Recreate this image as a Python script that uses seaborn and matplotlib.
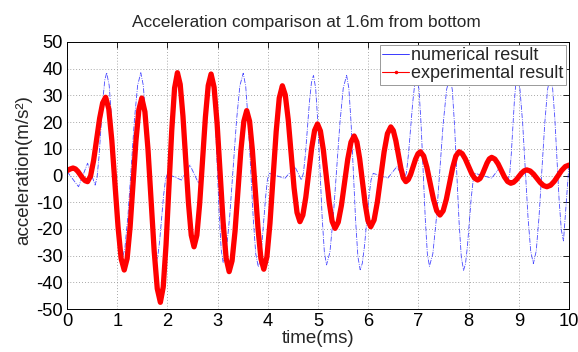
import matplotlib
matplotlib.use("Agg")
import matplotlib.pyplot as plt
import seaborn as sns
import pandas as pd
from matplotlib.lines import Line2D

# ---------------- data ----------------
title = "Acceleration comparison at 1.6m from bottom"
series_names = ["numerical result", "experimental result"]
x_ticks = [0, 1, 2, 3, 4, 5, 6, 7, 8, 9, 10]
y_ticks = [-50, -40, -30, -20, -10, 0, 10, 20, 30, 40, 50]

t_num = [0, 0.115, 0.23, 0.32, 0.41, 0.485, 0.56, 0.598, 0.637, 0.675, 0.713, 0.752, 0.79,
         0.84, 0.89, 0.94, 0.99, 1.04, 1.09, 1.153, 1.217, 1.28, 1.343, 1.407, 1.47,
         1.52, 1.57, 1.62, 1.67, 1.72, 1.77, 1.808, 1.847, 1.885, 1.923, 1.962, 2.0,
         2.14, 2.28, 2.365, 2.45, 2.535, 2.62, 2.663, 2.707, 2.75, 2.793, 2.837, 2.88,
         2.918, 2.957, 2.995, 3.033, 3.072, 3.11, 3.177, 3.243, 3.31, 3.377, 3.443, 3.51,
         3.56, 3.61, 3.66, 3.71, 3.76, 3.81, 3.847, 3.883, 3.92, 3.957, 3.993, 4.03,
         4.185, 4.34, 4.44, 4.54, 4.605, 4.67, 4.71, 4.75, 4.79, 4.83, 4.87, 4.91,
         4.953, 4.997, 5.04, 5.083, 5.127, 5.17, 5.237, 5.303, 5.37, 5.437, 5.503, 5.57,
         5.615, 5.66, 5.705, 5.75, 5.795, 5.84, 5.883, 5.927, 5.97, 6.013, 6.057, 6.1,
         6.245, 6.39, 6.48, 6.57, 6.645, 6.72, 6.762, 6.803, 6.845, 6.887, 6.928, 6.97,
         7.012, 7.053, 7.095, 7.137, 7.178, 7.22, 7.288, 7.357, 7.425, 7.493, 7.562, 7.63,
         7.675, 7.72, 7.765, 7.81, 7.855, 7.9, 7.938, 7.977, 8.015, 8.053, 8.092, 8.13,
         8.295, 8.46, 8.535, 8.61, 8.7, 8.79, 8.82, 8.85, 8.88, 8.91, 8.94, 8.97,
         9.023, 9.077, 9.13, 9.183, 9.237, 9.29, 9.347, 9.403, 9.46, 9.517, 9.573, 9.63,
         9.673, 9.717, 9.76, 9.803, 9.847, 9.89, 9.945, 10.0]
a_num = [1.5, -1.35, -4.2, 0.2, 4.6, 0.5, -3.6, -0.78, 6.92, 17.45, 27.98, 35.68, 38.5,
         33.78, 20.88, 3.25, -14.38, -27.28, -32.0, -27.28, -14.38, 3.25, 20.88, 33.78, 38.5,
         33.74, 20.75, 3.0, -14.75, -27.74, -32.5, -30.28, -24.23, -15.95, -7.68, -1.62, 0.6,
         -0.55, -1.7, 1.1, 3.9, 0.5, -2.9, -0.19, 7.2, 17.3, 27.4, 34.79, 37.5,
         32.81, 20.0, 2.5, -15.0, -27.81, -32.5, -27.76, -14.8, 2.9, 20.6, 33.56, 38.3,
         33.44, 20.18, 2.05, -16.08, -29.34, -34.2, -31.86, -25.45, -16.7, -7.95, -1.54, 0.8,
         -0.15, -1.1, 1.1, 3.3, 0.8, -1.7, 0.93, 8.1, 17.9, 27.7, 34.87, 37.5,
         32.74, 19.75, 2.0, -15.75, -28.74, -33.5, -28.74, -15.75, 2.0, 19.75, 32.74, 37.5,
         32.62, 19.3, 1.1, -17.1, -30.42, -35.3, -32.88, -26.28, -17.25, -8.22, -1.62, 0.8,
         -0.1, -1.0, 1.15, 3.3, 0.9, -1.5, 1.08, 8.12, 17.75, 27.38, 34.42, 37.0,
         32.24, 19.25, 1.5, -16.25, -29.24, -34.0, -29.24, -16.25, 1.5, 19.25, 32.24, 37.0,
         32.14, 18.88, 0.75, -17.38, -30.64, -35.5, -33.07, -26.43, -17.35, -8.27, -1.63, 0.8,
         -0.1, -1.0, 0.85, 2.7, 0.5, -1.7, 0.89, 7.97, 17.65, 27.33, 34.41, 37.0,
         32.31, 19.5, 2.0, -15.5, -28.31, -33.0, -28.31, -15.5, 2.0, 19.5, 32.31, 37.0,
         32.88, 21.63, 6.25, -9.13, -20.38, -24.5, -10.25, 4.0]

t_exp = [0.0, 0.06, 0.12, 0.168, 0.217, 0.265, 0.313, 0.362, 0.41, 0.47, 0.53, 0.59, 0.65,
         0.71, 0.77, 0.832, 0.893, 0.955, 1.017, 1.078, 1.14, 1.198, 1.257, 1.315, 1.373,
         1.432, 1.49, 1.552, 1.613, 1.675, 1.737, 1.798, 1.86, 1.917, 1.973, 2.03, 2.087,
         2.143, 2.2, 2.255, 2.31, 2.365, 2.42, 2.475, 2.53, 2.587, 2.643, 2.7, 2.757,
         2.813, 2.87, 2.93, 2.99, 3.05, 3.11, 3.17, 3.23, 3.288, 3.347, 3.405, 3.463,
         3.522, 3.58, 3.637, 3.693, 3.75, 3.807, 3.863, 3.92, 3.982, 4.043, 4.105, 4.167,
         4.228, 4.29, 4.348, 4.407, 4.465, 4.523, 4.582, 4.64, 4.698, 4.757, 4.815, 4.873,
         4.932, 4.99, 5.048, 5.107, 5.165, 5.223, 5.282, 5.34, 5.403, 5.467, 5.53, 5.593,
         5.657, 5.72, 5.775, 5.83, 5.885, 5.94, 5.995, 6.05, 6.117, 6.183, 6.25, 6.317,
         6.383, 6.45, 6.5, 6.55, 6.6, 6.65, 6.7, 6.75, 6.798, 6.847, 6.895, 6.943,
         6.992, 7.04, 7.105, 7.17, 7.235, 7.3, 7.365, 7.43, 7.493, 7.557, 7.62, 7.683,
         7.747, 7.81, 7.872, 7.933, 7.995, 8.057, 8.118, 8.18, 8.227, 8.273, 8.32, 8.367,
         8.413, 8.46, 8.523, 8.587, 8.65, 8.713, 8.777, 8.84, 8.893, 8.947, 9.0, 9.053,
         9.107, 9.16, 9.227, 9.293, 9.36, 9.427, 9.493, 9.56, 9.633, 9.707, 9.78, 9.853,
         9.927, 10.0]
a_exp = [1.8, 2.4, 2.8, 2.46, 1.53, 0.25, -1.03, -1.96, -2.3, -0.18, 5.6, 13.5, 21.4,
         27.18, 29.3, 24.97, 13.13, -3.05, -19.23, -31.07, -35.4, -31.09, -19.3, -3.2, 12.9,
         24.69, 29.0, 23.87, 9.88, -9.25, -28.38, -42.37, -47.5, -41.74, -26.0, -4.5, 17.0,
         32.74, 38.5, 34.13, 22.2, 5.9, -10.4, -22.33, -26.7, -22.37, -10.53, 5.65, 21.83,
         33.67, 38.0, 33.04, 19.5, 1.0, -17.5, -31.04, -36.0, -31.96, -20.93, -5.85, 9.23,
         20.26, 24.3, 20.32, 9.45, -5.4, -20.25, -31.12, -35.1, -30.5, -17.93, -0.75, 16.43,
         29.0, 33.6, 30.19, 20.88, 8.15, -4.58, -13.89, -17.3, -14.85, -8.15, 1.0, 10.15,
         16.85, 19.3, 16.68, 9.53, -0.25, -10.03, -17.18, -19.8, -17.48, -11.15, -2.5, 6.15,
         12.48, 14.8, 12.52, 6.3, -2.2, -10.7, -16.92, -19.2, -16.69, -9.85, -0.5, 8.85,
         15.69, 18.2, 16.83, 13.08, 7.95, 2.83, -0.93, -2.3, -1.55, 0.5, 3.3, 6.1,
         8.15, 8.9, 7.31, 2.98, -2.95, -8.88, -13.21, -14.8, -13.21, -8.88, -2.95, 2.98,
         7.31, 8.9, 8.19, 6.25, 3.6, 0.95, -0.99, -1.7, -1.13, 0.42, 2.55, 4.68,
         6.23, 6.8, 6.15, 4.38, 1.95, -0.48, -2.25, -2.9, -2.57, -1.65, -0.4, 0.85,
         1.77, 2.1, 1.68, 0.53, -1.05, -2.63, -3.78, -4.2, -3.66, -2.18, -0.15, 1.88,
         3.36, 3.9]

df_num = pd.DataFrame({"time": t_num, "acc": a_num})
df_exp = pd.DataFrame({"time": t_exp, "acc": a_exp})

# ---------------- figure ----------------
sns.set_theme(style="white")
plt.rcParams["font.family"] = ["Liberation Sans", "DejaVu Sans"]
plt.rcParams["axes.unicode_minus"] = False

fig = plt.figure(figsize=(5.78, 3.52), dpi=100)
ax = fig.add_axes([67 / 578, 1 - 309 / 352, 502 / 578, 267 / 352])

sns.lineplot(data=df_num, x="time", y="acc", ax=ax, color="#1a1aff", lw=0.6,
             estimator=None, sort=False, alpha=0.8)
ax.lines[-1].set_linestyle((0, (6, 1.5, 1, 1.5)))
sns.lineplot(data=df_exp, x="time", y="acc", ax=ax, color="#ff0000", lw=3.8,
             estimator=None, sort=False)
ax.lines[-1].set_solid_joinstyle("round")
ax.lines[-1].set_solid_capstyle("round")

ax.set_xlim(0, 10)
ax.set_ylim(-50, 50)
ax.set_xticks(x_ticks)
ax.set_xticklabels([str(v) for v in x_ticks])
ax.set_yticks(y_ticks)
ax.set_yticklabels([str(v) for v in y_ticks])
ax.tick_params(direction="in", top=True, right=True, length=4, width=0.6,
               labelsize=13.2, colors="black", pad=3)
ax.grid(True, color="0.55", linestyle=(0, (1, 2.5)), lw=0.6)
for sp in ax.spines.values():
    sp.set_color("black")
    sp.set_linewidth(0.7)
    sp.set_visible(True)

ax.set_title(title, fontsize=12.4, pad=11, x=0.477)
ax.set_xlabel("time(ms)", fontsize=13.5)
ax.set_ylabel("acceleration(m/s²)", fontsize=13.5)
ax.xaxis.set_label_coords(0.5, -0.08)
ax.yaxis.set_label_coords(-0.07, 0.52)

handles = [Line2D([], [], color="#1a1aff", lw=0.6),
           Line2D([], [], color="#ff0000", lw=0.8, marker=".", markersize=3)]
leg = ax.legend(handles, series_names, loc="upper right", fontsize=13,
                frameon=True, fancybox=False, edgecolor="0.6", framealpha=1,
                borderaxespad=0.15, handlelength=1.5, handletextpad=0.1,
                borderpad=0.15, labelspacing=0.05)
leg.get_frame().set_linewidth(0.7)

fig.savefig("out.png", dpi=100)
